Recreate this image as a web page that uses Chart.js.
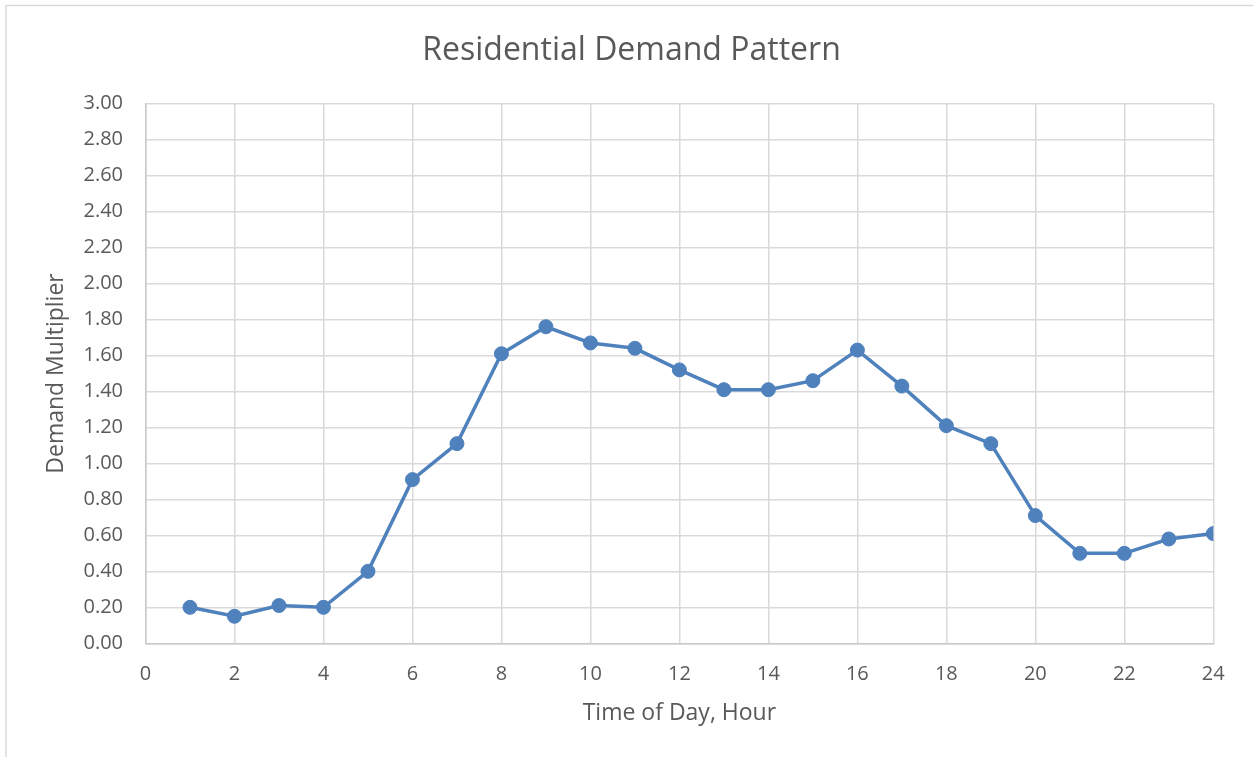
<!DOCTYPE html>
<html>
<head>
<meta charset="utf-8">
<script src="https://cdn.jsdelivr.net/npm/chart.js@4"></script>
<style>
  html, body { margin: 0; padding: 0; background: #ffffff; }
  #wrap { width: 1253px; height: 757px; position: relative; }
</style>
</head>
<body>
<div id="wrap"><canvas id="c" width="1253" height="757"></canvas></div>
<script>
const chartTitle = 'Residential Demand Pattern';
const xTitle = 'Time of Day, Hour';
const yTitle = 'Demand Multiplier';
const hours = [1, 2, 3, 4, 5, 6, 7, 8, 9, 10, 11, 12, 13, 14, 15, 16, 17, 18, 19, 20, 21, 22, 23, 24];
const multipliers = [0.20, 0.15, 0.21, 0.20, 0.40, 0.91, 1.11, 1.61, 1.76, 1.67, 1.64, 1.52, 1.41, 1.41, 1.46, 1.63, 1.43, 1.21, 1.11, 0.71, 0.50, 0.50, 0.58, 0.61];
const xTicks = [0, 2, 4, 6, 8, 10, 12, 14, 16, 18, 20, 22, 24];
const yTicks = [0, 0.2, 0.4, 0.6, 0.8, 1.0, 1.2, 1.4, 1.6, 1.8, 2.0, 2.2, 2.4, 2.6, 2.8, 3.0];

const FONT = "'Open Sans', 'Noto Sans', sans-serif";
const TEXT = '#595959';
const GRID = '#d9d9d9';
const BLUE = '#4f81bd';

const framePlugin = {
  id: 'frameAndTitle',
  beforeDraw(chart) {
    const ctx = chart.ctx;
    ctx.save();
    ctx.fillStyle = '#ffffff';
    ctx.fillRect(0, 0, chart.width, chart.height);
    ctx.strokeStyle = GRID;
    ctx.lineWidth = 1.5;
    ctx.strokeRect(6, 5.5, chart.width + 20, chart.height + 20);
    ctx.restore();
  },
  afterDraw(chart) {
    const ctx = chart.ctx;
    ctx.save();
    ctx.fillStyle = TEXT;
    ctx.font = "32px " + FONT;
    ctx.textAlign = 'center';
    ctx.textBaseline = 'middle';
    ctx.fillText(chartTitle, 631.5, 51);
    ctx.restore();
  }
};

new Chart(document.getElementById('c'), {
  type: 'scatter',
  data: {
    datasets: [{
      data: hours.map((h, i) => ({ x: h, y: multipliers[i] })),
      showLine: true,
      borderColor: BLUE,
      backgroundColor: BLUE,
      borderWidth: 3.5,
      pointRadius: 7,
      pointHoverRadius: 7,
      pointBorderWidth: 1,
      pointBorderColor: BLUE,
      pointBackgroundColor: BLUE,
      tension: 0
    }]
  },
  options: {
    responsive: false,
    animation: false,
    devicePixelRatio: 1,
    layout: { padding: { left: 0, right: 39.7, top: 103.7, bottom: 0 } },
    plugins: {
      legend: { display: false },
      tooltip: { enabled: false },
      title: { display: false }
    },
    scales: {
      x: {
        type: 'linear',
        min: 0,
        max: 24,
        afterBuildTicks(scale) { scale.ticks = xTicks.map(v => ({ value: v })); },
        afterFit(scale) { scale.height = 113.7; },
        ticks: {
          color: TEXT,
          font: { family: FONT, size: 20 },
          padding: 18.5,
          maxRotation: 0,
          callback: v => String(v)
        },
        grid: { color: GRID, lineWidth: 1.5, drawTicks: false },
        border: { color: '#c9c9c9', width: 1.5 },
        title: {
          display: true,
          text: xTitle,
          color: TEXT,
          font: { family: FONT, size: 23 },
          padding: { top: 0, bottom: 30 }
        }
      },
      y: {
        type: 'linear',
        min: 0,
        max: 3,
        afterBuildTicks(scale) { scale.ticks = yTicks.map(v => ({ value: v })); },
        afterFit(scale) { scale.width = 145.5; },
        ticks: {
          color: TEXT,
          font: { family: FONT, size: 20 },
          padding: 22.5,
          callback: v => Number(v).toFixed(2)
        },
        grid: { color: GRID, lineWidth: 1.5, drawTicks: false },
        border: { color: '#c9c9c9', width: 1.5 },
        title: {
          display: true,
          text: yTitle,
          color: TEXT,
          font: { family: FONT, size: 23 },
          padding: { top: 43, bottom: 0 }
        }
      }
    }
  },
  plugins: [framePlugin]
});
</script>
</body>
</html>
